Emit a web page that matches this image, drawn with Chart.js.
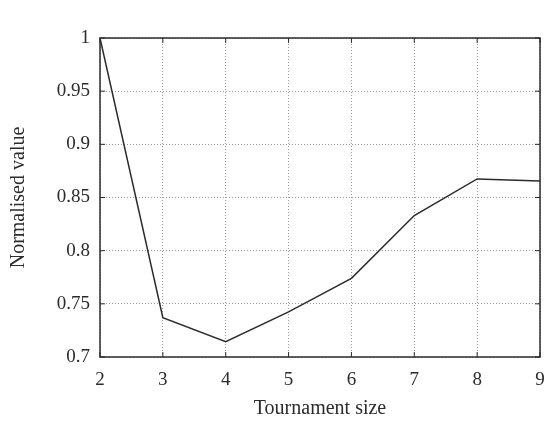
<!DOCTYPE html>
<html>
<head>
<meta charset="utf-8">
<script src="https://cdn.jsdelivr.net/npm/chart.js@4/dist/chart.umd.min.js"></script>
<style>
  html, body { margin: 0; padding: 0; background: #fff; }
  #wrap { width: 551px; height: 423px; }
</style>
</head>
<body>
<div id="wrap"><canvas id="tourChart"></canvas></div>
<script>
// Données
const tournamentSizes = [2, 3, 4, 5, 6, 7, 8, 9];
const normalisedValues = [1.0, 0.737, 0.7145, 0.7425, 0.774, 0.833, 0.8675, 0.8655];
const yTicks = [0.7, 0.75, 0.8, 0.85, 0.9, 0.95, 1];

const FONT = '"Liberation Serif", "Times New Roman", serif';
const INK = '#2b2b2b';

// cadre + petites graduations internes (haut et droite)
const framePlugin = {
    id: 'frame',
    afterDatasetsDraw(chart) {
        const { ctx, chartArea: a, scales } = chart;
        ctx.save();
        ctx.strokeStyle = INK;
        ctx.lineWidth = 1.5;
        ctx.strokeRect(a.left, a.top, a.right - a.left, a.bottom - a.top);
        ctx.lineWidth = 1;
        ctx.beginPath();
        tournamentSizes.forEach(v => {
            const px = scales.x.getPixelForValue(v);
            ctx.moveTo(px, a.bottom); ctx.lineTo(px, a.bottom - 5);
            ctx.moveTo(px, a.top); ctx.lineTo(px, a.top + 5);
        });
        yTicks.forEach(v => {
            const py = scales.y.getPixelForValue(v);
            ctx.moveTo(a.left, py); ctx.lineTo(a.left + 5, py);
            ctx.moveTo(a.right, py); ctx.lineTo(a.right - 5, py);
        });
        ctx.stroke();
        ctx.restore();
    }
};

new Chart(document.getElementById('tourChart'), {
    type: 'line',
    data: {
        datasets: [{
            data: tournamentSizes.map((x, i) => ({ x: x, y: normalisedValues[i] })),
            borderColor: INK,
            borderWidth: 1.5,
            pointRadius: 0,
            tension: 0,
            fill: false
        }]
    },
    options: {
        responsive: true,
        maintainAspectRatio: false,
        animation: false,
        devicePixelRatio: 1,
        layout: { padding: { top: 38, right: 11, left: 0, bottom: 0 } },
        plugins: {
            legend: { display: false },
            tooltip: { enabled: false }
        },
        scales: {
            x: {
                type: 'linear',
                min: 2,
                max: 9,
                afterFit: s => { s.height = 66; s.paddingLeft = 0; s.paddingRight = 0; },
                afterBuildTicks: s => { s.ticks = tournamentSizes.map(v => ({ value: v })); },
                grid: { color: '#9a9a9a', lineWidth: 1, drawTicks: false },
                border: { display: false, dash: [1, 2] },
                ticks: { color: INK, font: { family: FONT, size: 19 }, padding: 12 },
                title: {
                    display: true,
                    text: 'Tournament size',
                    color: INK,
                    font: { family: FONT, size: 20 },
                    padding: { top: 4, bottom: 2 }
                }
            },
            y: {
                type: 'linear',
                min: 0.7,
                max: 1,
                afterFit: s => { s.width = 100; s.paddingTop = 0; s.paddingBottom = 0; },
                afterBuildTicks: s => { s.ticks = yTicks.map(v => ({ value: v })); },
                grid: { color: '#9a9a9a', lineWidth: 1, drawTicks: false },
                border: { display: false, dash: [1, 2] },
                ticks: {
                    color: INK,
                    font: { family: FONT, size: 19 },
                    padding: 10,
                    callback: v => String(+Number(v).toFixed(2))
                },
                title: {
                    display: true,
                    text: 'Normalised value',
                    color: INK,
                    font: { family: FONT, size: 20 },
                    padding: { top: 7, bottom: 4 }
                }
            }
        }
    },
    plugins: [framePlugin]
});
</script>
</body>
</html>
